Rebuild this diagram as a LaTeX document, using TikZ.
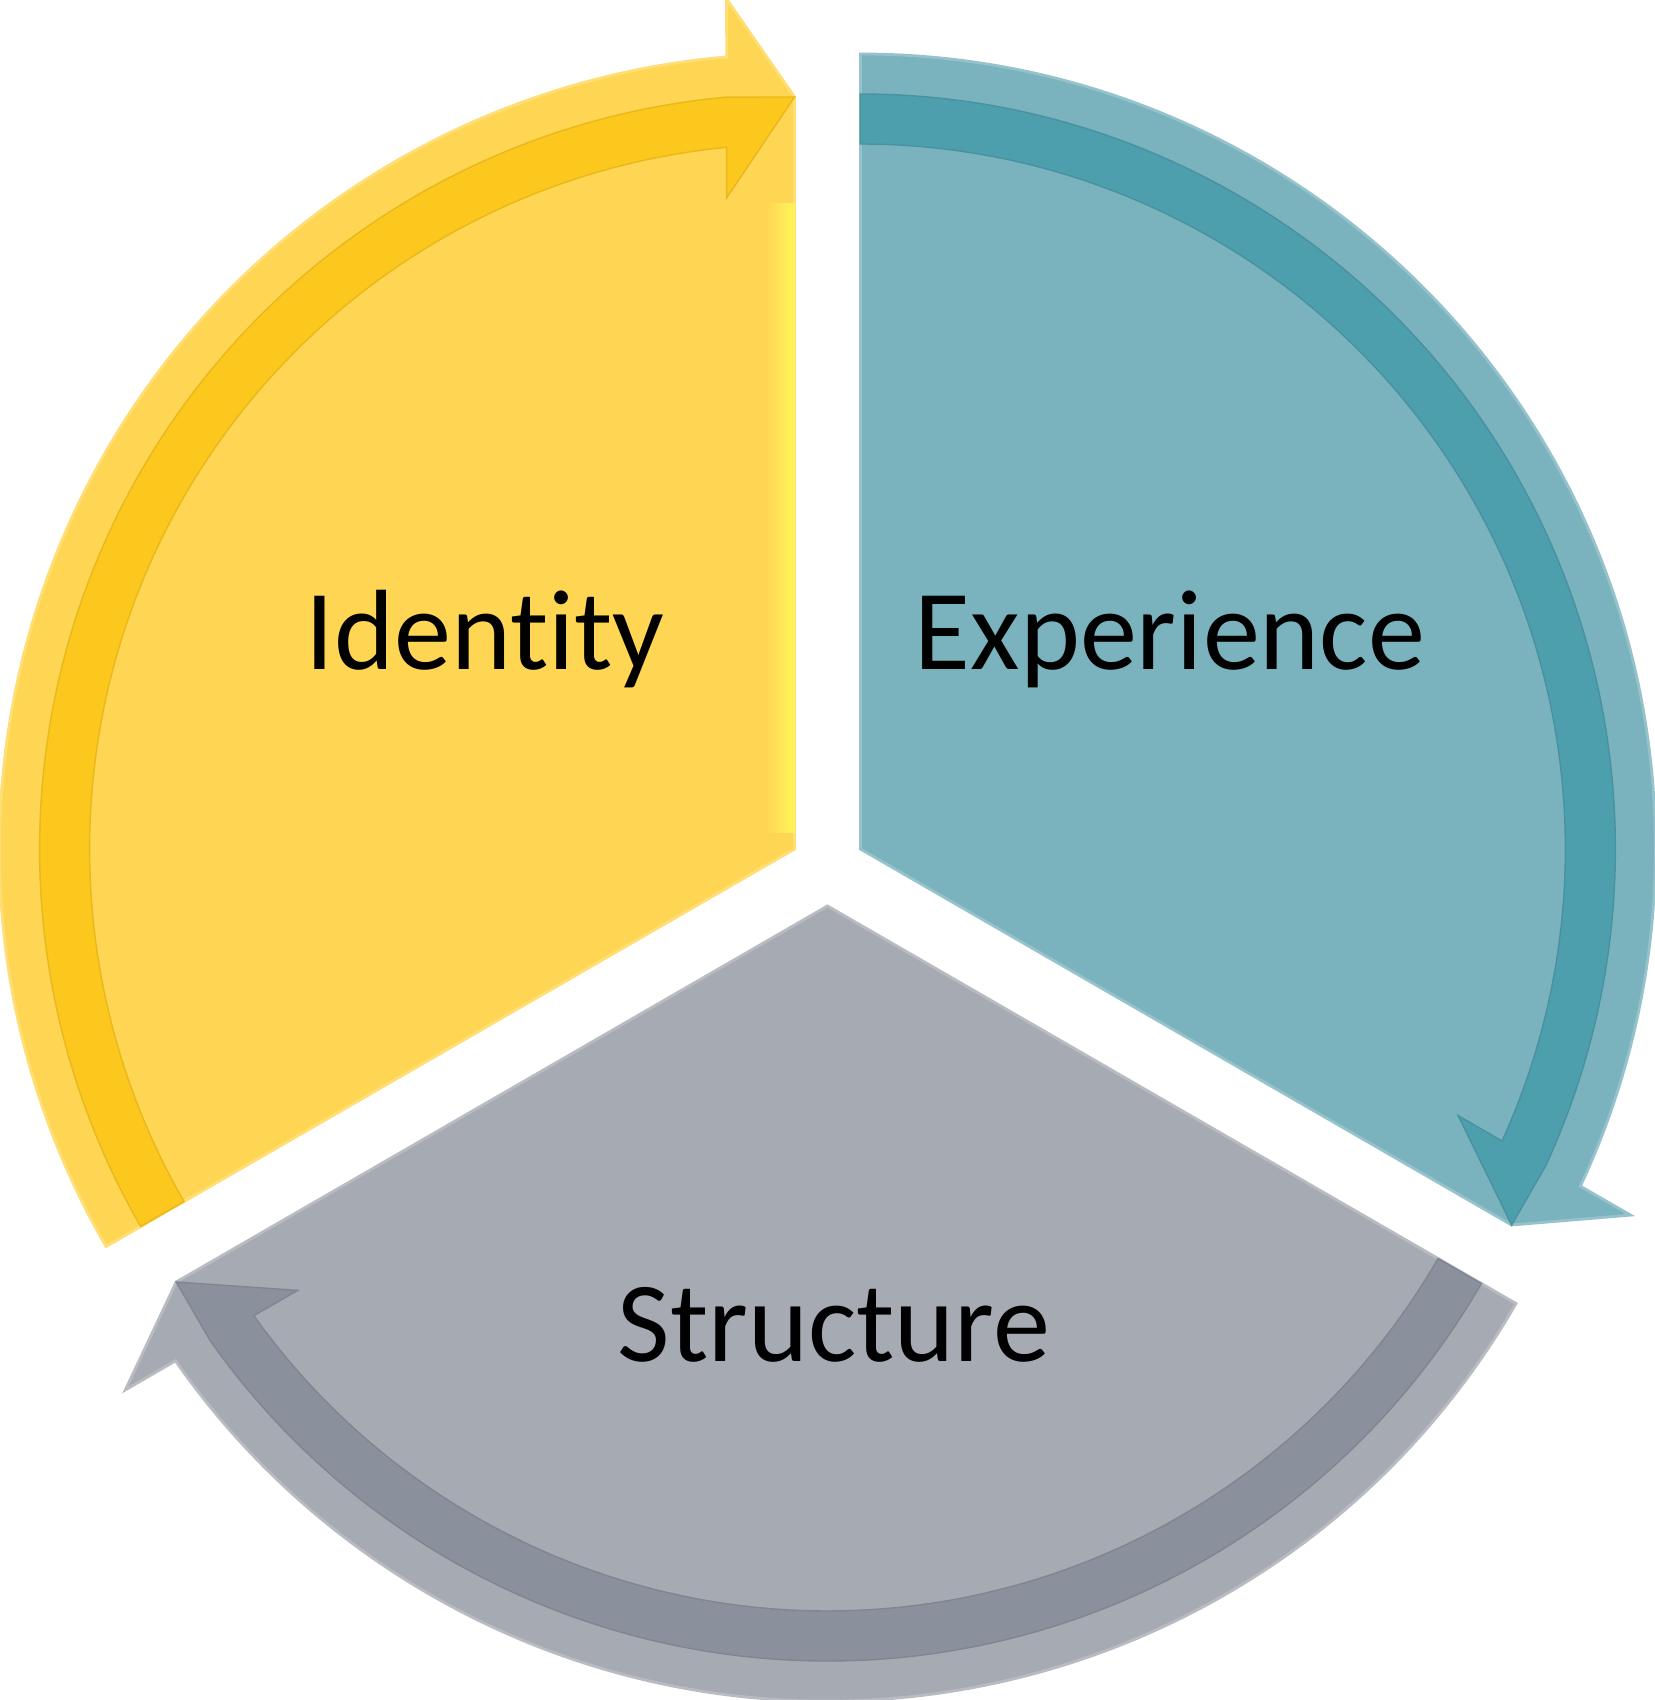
\documentclass[tikz,border=0pt]{standalone}
\usepackage{fontspec}
\setmainfont{Carlito}[Ligatures=NoCommon]
\usepackage{tikz}

\definecolor{idbody}{HTML}{FFD653}
\definecolor{idband}{HTML}{FCC81E}
\definecolor{idedge}{HTML}{FFF55A}
\definecolor{exbody}{HTML}{7AB3BE}
\definecolor{exband}{HTML}{4E9FAE}
\definecolor{stbody}{HTML}{A6AAB3}
\definecolor{stband}{HTML}{8B919C}

\begin{document}
\begin{tikzpicture}[
  lbl/.style={anchor=base,inner sep=0pt,font=\fontsize{32.5}{38}\selectfont},
  bodyfill/.style={fill=#1,draw=#1!80!white,line width=0.8pt},
  bandfill/.style={fill=#1,draw=#1!92!black,line width=0.4pt},
]
  \useasboundingbox (-8.275,-8.32) rectangle (8.275,8.68);
  % three segments, each pushed out from the centre
  \foreach \dir/\rot/\body/\band in {150/0/idbody/idband, 30/-120/exbody/exband, 270/120/stbody/stband} {
    \begin{scope}[shift={(\dir:0.38)},rotate=\rot]
      \filldraw[bodyfill=\body] (0,0) -- (210:7.95) arc[start angle=210,end angle=94.9,radius=7.95]
        -- (-0.68,8.50) -- (0,7.52) -- cycle;
      \filldraw[bandfill=\band] (210:7.55) arc[start angle=210,end angle=95.17,radius=7.55]
        -- (0,7.52) -- (-0.68,6.51) -- (95.53:7.05) arc[start angle=95.53,end angle=210,radius=7.05] -- cycle;
    \end{scope}
  }
  % light strip on the yellow edge
  \begin{scope}[shift={(150:0.38)}]
    \shade[left color=idbody,right color=idedge] (-0.28,0.16) rectangle (0,6.45);
  \end{scope}
  \node[lbl] (identity) at (-3.425,1.98) {Identity};
  \node[lbl] (experience) at (3.425,1.98) {Experience};
  \node[lbl] (structure) at (0.065,-4.93) {Structure};
\end{tikzpicture}
\end{document}
